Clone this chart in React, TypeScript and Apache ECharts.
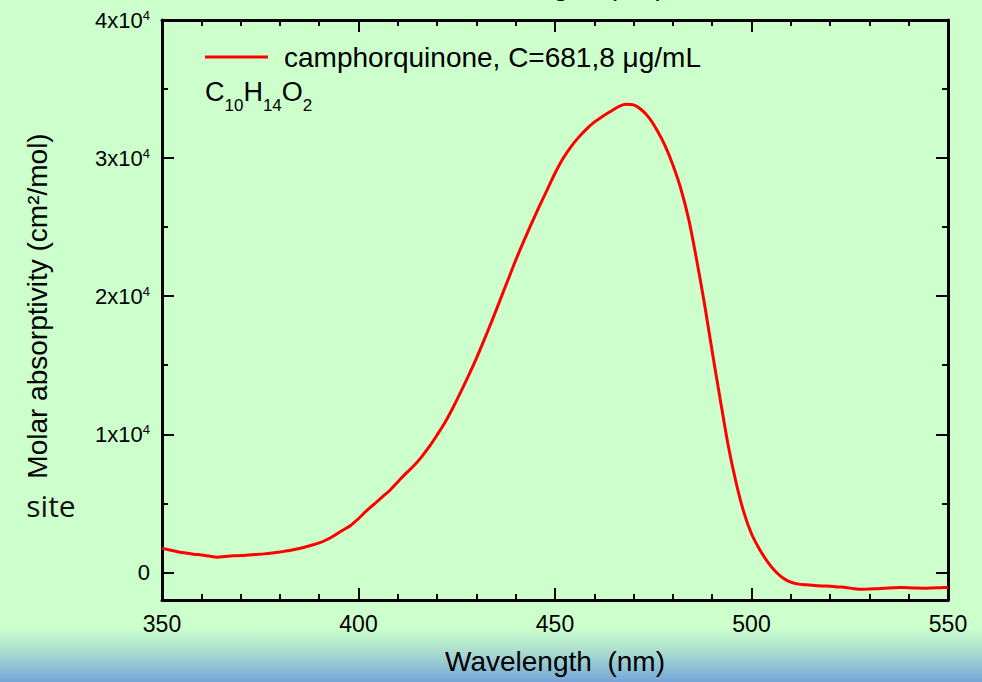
import React, { useEffect, useRef } from "react";
import * as echarts from "echarts";

const wavelengthNm = [
  350, 352, 354, 356, 358, 360, 362, 364, 366, 368, 370, 372, 374, 376, 378, 380,
  382, 384, 386, 388, 390, 392, 394, 396, 398, 400, 402, 404, 406, 408, 410, 412,
  414, 416, 418, 420, 422, 424, 426, 428, 430, 432, 434, 436, 438, 440, 442, 444,
  446, 448, 450, 452, 454, 456, 458, 460, 462, 464, 466, 468, 470, 472, 474, 476,
  478, 480, 482, 484, 486, 488, 490, 492, 494, 496, 498, 500, 502, 504, 506, 508,
  510, 512, 514, 516, 518, 520, 522, 524, 526, 528, 530, 532, 534, 536, 538, 540,
  542, 544, 546, 548, 550,
];

const molarAbsorptivity = [
  1740, 1620, 1500, 1400, 1320, 1260, 1180, 1100, 1150, 1200, 1220, 1260, 1300, 1340, 1400, 1480,
  1560, 1680, 1800, 1960, 2130, 2380, 2700, 3050, 3400, 3900, 4450, 4950, 5450, 5950, 6550, 7150,
  7700, 8350, 9100, 9950, 10850, 11900, 13050, 14250, 15500, 16850, 18250, 19700, 21150, 22600, 23950, 25250,
  26500, 27700, 28900, 29950, 30800, 31500, 32100, 32600, 33000, 33350, 33700, 33900, 33850, 33500, 32900, 32000,
  30900, 29500, 27800, 25600, 22700, 19500, 16000, 12600, 9300, 6600, 4400, 2800, 1700, 800, 100, -400,
  -700, -850, -900, -950, -980, -1000, -1050, -1100, -1180, -1230, -1200, -1180, -1150, -1120, -1100, -1110,
  -1140, -1150, -1130, -1110, -1090,
];

const xMin = 350;
const xMax = 550;
const xInterval = 50;
const yMin = -2000;
const yMax = 40000;
const yMajorTicks = [0, 10000, 20000, 30000, 40000];
const yMinorTicks = [5000, 15000, 25000, 35000];

const seriesName = "camphorquinone, C=681,8 \u03bcg/mL";
const xTitle = "Wavelength  (nm)";
const yTitle = "Molar absorptivity (cm\u00b2/mol)";
const formulaText = "{n|C}{s|10}{n|H}{s|14}{n|O}{s|2}";
const slideText = "site";

const FONT = "'Liberation Sans', Arial, sans-serif";

function yTickLabel(v: number): string {
  if (v === 0) return "{b|0}";
  return `{b|${Math.round(v / 10000)}x10}{s|4}`;
}

export default function App() {
  const ref = useRef<HTMLDivElement | null>(null);

  useEffect(() => {
    if (!ref.current) return;
    const chart = echarts.init(ref.current, null, { renderer: "svg" });

    const black = "#000000";
    const tickStyle = { color: black, width: 2 };
    const lineStyle = { color: black, width: 3 };

    const xAxisBase = {
      type: "value" as const,
      min: xMin,
      max: xMax,
      interval: xInterval,
      axisLine: { show: true, onZero: false, lineStyle },
      axisTick: { show: true, inside: true, length: 12, lineStyle: tickStyle },
      minorTick: { show: true, splitNumber: 5, length: 6, lineStyle: tickStyle },
      splitLine: { show: false },
      minorSplitLine: { show: false },
    };

    const yAxisBase = {
      type: "value" as const,
      min: yMin,
      max: yMax,
      axisLine: { show: true, onZero: false, lineStyle },
      splitLine: { show: false },
    };

    const option: any = {
      animation: false,
      backgroundColor: "#ccffcc",
      grid: { left: 162, right: 34, top: 20, bottom: 82, containLabel: false },
      legend: {
        show: true,
        data: [seriesName],
        left: 205,
        top: 42,
        padding: 0,
        icon: "rect",
        itemWidth: 63,
        itemHeight: 3,
        textStyle: {
          color: black,
          fontSize: 28,
          fontFamily: FONT,
          lineHeight: 30,
          padding: [0, 0, 0, 11],
        },
      },
      xAxis: [
        {
          ...xAxisBase,
          position: "bottom",
          axisLabel: { show: true, color: black, fontSize: 23, fontFamily: FONT, margin: 12 },
        },
        {
          ...xAxisBase,
          position: "top",
          axisLabel: { show: false },
        },
      ],
      yAxis: [
        {
          ...yAxisBase,
          position: "left",
          axisTick: {
            show: true,
            inside: true,
            length: 12,
            lineStyle: tickStyle,
            customValues: yMajorTicks,
          },
          axisLabel: {
            show: true,
            customValues: yMajorTicks,
            margin: 12,
            formatter: (v: number) => yTickLabel(v),
            rich: {
              b: {
                color: black,
                fontSize: 22,
                fontFamily: FONT,
                lineHeight: 22,
                padding: [4, 0, 0, 0],
                verticalAlign: "bottom",
              },
              s: {
                color: black,
                fontSize: 13,
                fontFamily: FONT,
                lineHeight: 13,
                verticalAlign: "top",
              },
            },
          },
        },
        {
          ...yAxisBase,
          position: "left",
          axisLine: { show: false },
          axisTick: {
            show: true,
            inside: true,
            length: 6,
            lineStyle: tickStyle,
            customValues: yMinorTicks,
          },
          axisLabel: { show: false, customValues: yMinorTicks },
        },
        {
          ...yAxisBase,
          position: "right",
          axisTick: {
            show: true,
            inside: true,
            length: 12,
            lineStyle: tickStyle,
            customValues: yMajorTicks,
          },
          axisLabel: { show: false, customValues: yMajorTicks },
        },
        {
          ...yAxisBase,
          position: "right",
          axisLine: { show: false },
          axisTick: {
            show: true,
            inside: true,
            length: 6,
            lineStyle: tickStyle,
            customValues: yMinorTicks,
          },
          axisLabel: { show: false, customValues: yMinorTicks },
        },
      ],
      series: [
        {
          name: seriesName,
          type: "line",
          xAxisIndex: 0,
          yAxisIndex: 0,
          data: wavelengthNm.map((w, i) => [w, molarAbsorptivity[i]]),
          showSymbol: false,
          symbol: "none",
          smooth: 0.3,
          itemStyle: { color: "#ff0000" },
          lineStyle: { color: "#ff0000", width: 3 },
          z: 3,
        },
      ],
      graphic: [
        {
          type: "rect",
          z: -10,
          silent: true,
          shape: { x: 0, y: 628, width: 982, height: 54 },
          style: {
            fill: new echarts.graphic.LinearGradient(0, 0, 0, 1, [
              { offset: 0, color: "#ccffcc" },
              { offset: 0.45, color: "#a9dccf" },
              { offset: 1, color: "#74a6d8" },
            ]),
          },
        },
        {
          type: "text",
          x: 51,
          y: 505,
          silent: true,
          style: {
            text: slideText,
            fill: "#111111",
            fontSize: 30,
            fontFamily: "'Open Sans', 'Noto Sans', sans-serif",
            align: "center",
            verticalAlign: "middle",
          },
        },
        {
          type: "text",
          x: 555,
          y: 661,
          z: 10,
          style: {
            text: xTitle,
            fill: black,
            fontSize: 28,
            fontFamily: FONT,
            align: "center",
            verticalAlign: "middle",
          },
        },
        {
          type: "text",
          x: 555,
          y: -15,
          z: 10,
          style: {
            text: xTitle,
            fill: black,
            fontSize: 28,
            fontFamily: FONT,
            align: "center",
            verticalAlign: "middle",
          },
        },
        {
          type: "text",
          x: 37,
          y: 306,
          rotation: Math.PI / 2,
          z: 10,
          style: {
            text: yTitle,
            fill: black,
            fontSize: 28,
            fontFamily: FONT,
            align: "center",
            verticalAlign: "middle",
          },
        },
        {
          type: "text",
          x: 205,
          y: 78,
          z: 10,
          style: {
            text: formulaText,
            align: "left",
            verticalAlign: "top",
            rich: {
              n: {
                fill: black,
                fontSize: 27,
                fontFamily: FONT,
                lineHeight: 27,
                verticalAlign: "top",
              },
              s: {
                fill: black,
                fontSize: 17,
                fontFamily: FONT,
                lineHeight: 36,
                verticalAlign: "bottom",
              },
            },
          },
        },
      ],
    };

    chart.setOption(option);
    return () => {
      chart.dispose();
    };
  }, []);

  return (
    <div
      ref={ref}
      style={{ position: "fixed", left: 0, top: 0, width: 982, height: 682 }}
    />
  );
}
